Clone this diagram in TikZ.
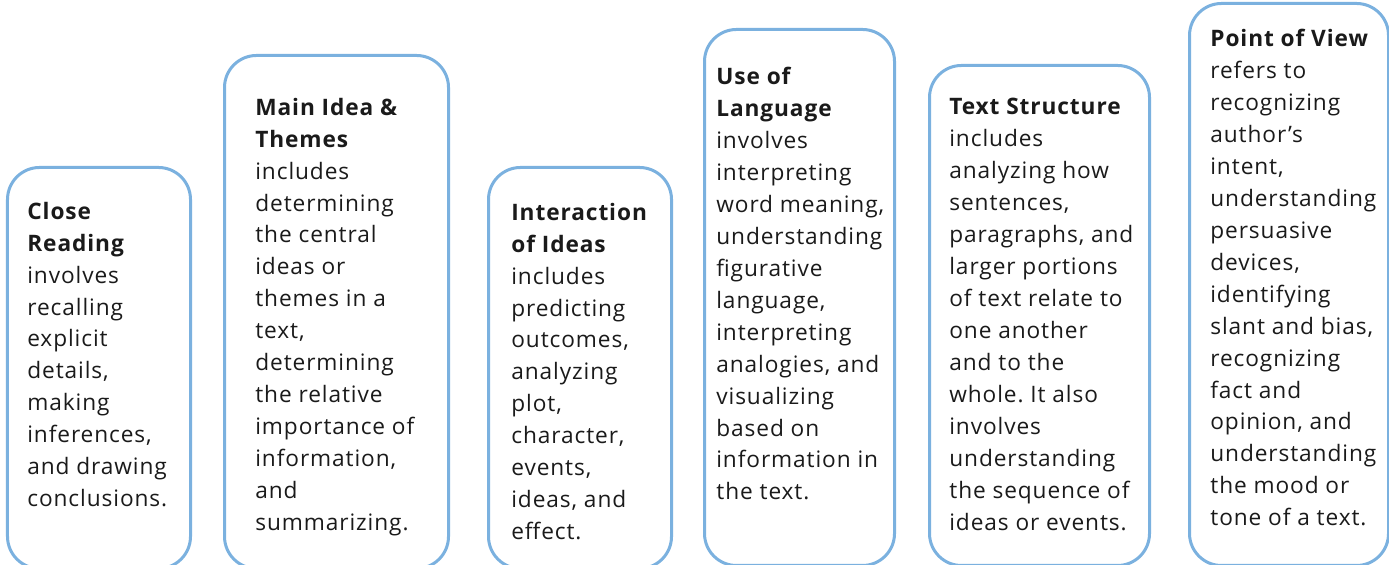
\documentclass[tikz,border=0pt]{standalone}
\usepackage{fontspec}
\setmainfont[LetterSpace=4]{Open Sans}
\definecolor{edge}{HTML}{7BB1DF}
\definecolor{ink}{HTML}{1A1A1A}
\frenchspacing

\begin{document}
\begin{tikzpicture}[
    card/.style={draw=edge, line width=0.06cm, rounded corners=0.64cm,
                 rectangle, anchor=north west, inner sep=0pt},
    blurb/.style={anchor=north west, inner sep=0pt, align=left, text=ink,
                  font=\fontsize{12.9}{18.2}\selectfont,
                  execute at begin node=\strut},
]
\useasboundingbox (0,0) rectangle (27.78,11.30);

% ---------------------------------------------------------------- the cards
\node[card, minimum width=3.66cm, minimum height=8.02cm]  (close)  at (0.12, 7.98) {};
\node[card, minimum width=4.48cm, minimum height=10.26cm] (main)   at (4.46, 10.22) {};
\node[card, minimum width=3.66cm, minimum height=8.02cm]  (inter)  at (9.74, 7.98) {};
\node[card, minimum width=3.80cm, minimum height=10.72cm] (lang)   at (14.06, 10.74) {};
\node[card, minimum width=4.40cm, minimum height=10.00cm] (struct) at (18.56, 10.02) {};
\node[card, minimum width=3.98cm, minimum height=11.24cm] (view)   at (23.76, 11.26) {};

% ---------------------------------------------------------------- the texts
\node[blurb] (closetxt) at (0.54, 7.27) {\textbf{Close}\\ \textbf{Reading}\\
    involves\\ recalling\\ explicit\\ details,\\ making\\ inferences,\\
    and drawing\\ conclusions.};
\node[blurb] (maintxt) at (5.10, 9.35) {\textbf{Main Idea \&}\\ \textbf{Themes}\\
    includes\\ determining\\ the central\\ ideas or\\ themes in a\\ text,\\
    determining\\ the relative\\ importance of\\ information,\\ and\\ summarizing.};
\node[blurb] (intertxt) at (10.22, 7.25) {\textbf{Interaction}\\ \textbf{of Ideas}\\
    includes\\ predicting\\ outcomes,\\ analyzing\\ plot,\\ character,\\
    events,\\ ideas, and\\ effect.};
\node[blurb] (langtxt) at (14.32, 9.97) {\textbf{Use of}\\ \textbf{Language}\\
    involves\\ interpreting\\ word meaning,\\ understanding\\ figurative\\
    language,\\ interpreting\\ analogies, and\\ visualizing\\ based on\\
    information in\\ the text.};
\node[blurb] (structtxt) at (18.98, 9.35) {\textbf{Text Structure}\\
    includes\\ analyzing how\\ sentences,\\ paragraphs, and\\ larger portions\\
    of text relate to\\ one another\\ and to the\\ whole. It also\\ involves\\
    understanding\\ the sequence of\\ ideas or events.};
\node[blurb] (viewtxt) at (24.20, 10.73) {\textbf{Point of View}\\
    refers to\\ recognizing\\ author’s\\ intent,\\ understanding\\ persuasive\\
    devices,\\ identifying\\ slant and bias,\\ recognizing\\ fact and\\
    opinion, and\\ understanding\\ the mood or\\ tone of a text.};
\end{tikzpicture}
\end{document}
